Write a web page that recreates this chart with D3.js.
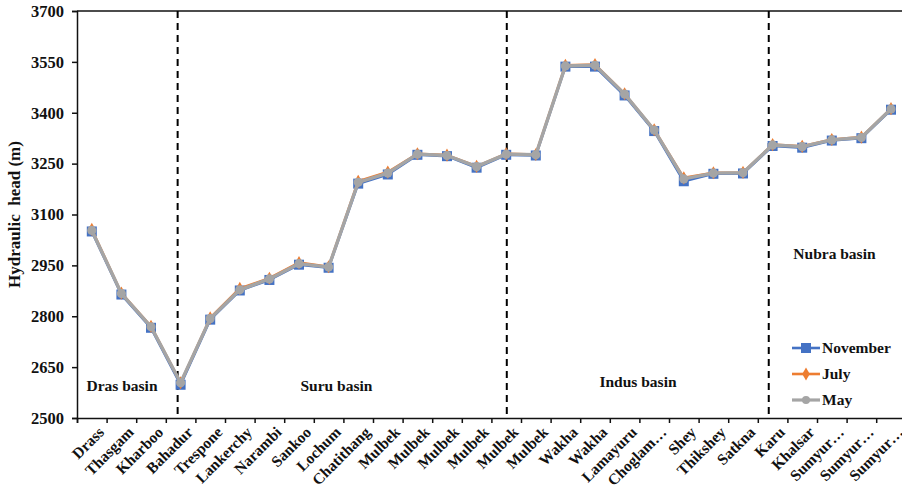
<!DOCTYPE html>
<html>
<head>
<meta charset="utf-8">
<script src="https://cdn.jsdelivr.net/npm/d3@7"></script>
<style>
  html, body { margin: 0; padding: 0; background: #fff; }
  svg { display: block; }
  text { font-family: "Liberation Serif", "Times New Roman", serif; font-weight: bold; fill: #111; }
</style>
</head>
<body>
<svg id="chart" width="902" height="491"></svg>
<script>
// Monitoring wells, in order along the basins
const sites = ["Drass","Thasgam","Kharboo","Bahadur","Trespone","Lankerchy","Narambi","Sankoo","Lochum","Chatithang",
  "Mulbek","Mulbek","Mulbek","Mulbek","Mulbek","Mulbek","Wakha","Wakha","Lamayuru","Choglam…","Shey","Thikshey",
  "Satkna","Karu","Khalsar","Sumyur…","Sumyur…","Sumyur…"];

// Hydraulic head (m) per season
const november = [3050,2864,2766,2598,2790,2876,2907,2952,2943,3191,3218,3276,3272,3238,3276,3274,3536,3536,3451,3346,3198,3220,3221,3302,3297,3318,3325,3409];
const july     = [3056,2868,2770,2604,2795,2882,2912,2958,2946,3198,3225,3279,3275,3242,3279,3277,3540,3542,3456,3350,3208,3223,3224,3306,3301,3321,3328,3412];
const may      = [3053,2867,2769,2604,2793,2878,2910,2955,2945,3195,3222,3278,3274,3241,3278,3276,3538,3540,3455,3349,3205,3222,3223,3305,3300,3320,3327,3411];

const yTicks = [2500,2650,2800,2950,3100,3250,3400,3550,3700];

// Basin separators (in site-index units) and basin names
const basinBreaks = [2.9, 14.02, 22.87];
const basins = [
  {name: "Dras basin",  at: -0.18, v: 2580},
  {name: "Suru basin",  at: 7.05,  v: 2580},
  {name: "Indus basin", at: 17.15, v: 2592},
  {name: "Nubra basin", at: 23.7,  v: 2968}
];

const seriesDefs = [
  {name: "November", values: november, color: "#4472C4"},
  {name: "July",     values: july,     color: "#ED7D31"},
  {name: "May",      values: may,      color: "#A5A5A5"}
];

const svg = d3.select("#chart");
const mLeft = 77, mTop = 11, mBottom = 418, step = 29.6;
const mRight = mLeft + step * sites.length;

const x = d3.scaleBand().domain(d3.range(sites.length)).range([mLeft, mRight]).padding(0);
const xIdx = d3.scaleLinear().domain([0, sites.length - 1])
  .range([x(0) + x.bandwidth() / 2, x(sites.length - 1) + x.bandwidth() / 2]);
const xEdge = d3.scaleLinear().domain([0, sites.length]).range([mLeft, mRight]);
const y = d3.scaleLinear().domain([2500, 3700]).range([mBottom, mTop]);

// Top frame line
svg.append("line").attr("x1", mLeft).attr("x2", mRight).attr("y1", mTop).attr("y2", mTop)
  .attr("stroke", "#111").attr("stroke-width", 1.5);

// Basin separators
svg.selectAll("line.sep").data(basinBreaks).join("line").attr("class", "sep")
  .attr("x1", d => xIdx(d)).attr("x2", d => xIdx(d))
  .attr("y1", mTop).attr("y2", mBottom)
  .attr("stroke", "#000").attr("stroke-width", 2).attr("stroke-dasharray", "7,5");

// Y axis
const yAxis = svg.append("g").attr("transform", `translate(${mLeft},0)`)
  .call(d3.axisLeft(y).tickValues(yTicks).tickSize(5).tickPadding(8).tickFormat(d3.format("d")));
yAxis.select(".domain").attr("stroke", "#111").attr("stroke-width", 1.5);
yAxis.selectAll(".tick line").attr("stroke", "#111").attr("stroke-width", 1.5);
yAxis.selectAll("text").style("font-size", "16.5px").attr("fill", "#111");

// X axis: ticks on category edges
const xTicks = svg.append("g").attr("transform", `translate(0,${mBottom})`)
  .call(d3.axisBottom(xEdge).tickValues(d3.range(0, sites.length + 1)).tickSize(5).tickFormat(""));
xTicks.select(".domain").attr("stroke", "#111").attr("stroke-width", 1.5);
xTicks.selectAll(".tick line").attr("stroke", "#111").attr("stroke-width", 1.5);

// X axis labels, rotated
const xLab = svg.append("g").attr("transform", `translate(0,${mBottom})`)
  .call(d3.axisBottom(x).tickSize(0).tickFormat(i => sites[i]));
xLab.select(".domain").remove();
xLab.selectAll("text")
  .style("font-size", "15.5px").attr("fill", "#111")
  .attr("text-anchor", "end")
  .attr("transform", "translate(5,7) rotate(-45)")
  .attr("dy", "0.75em").attr("y", 0).attr("x", 0);

// Y title
svg.append("text")
  .attr("transform", `translate(20,${(mTop + mBottom) / 2}) rotate(-90)`)
  .attr("text-anchor", "middle").style("font-size", "17px").attr("fill", "#2a0e14")
  .attr("xml:space", "preserve")
  .text("Hydraulic  head (m)");

// Lines and markers
const line = d3.line().x((d, i) => xIdx(i)).y(d => y(d));

seriesDefs.forEach(s => {
  svg.append("path").datum(s.values)
    .attr("fill", "none").attr("stroke", s.color)
    .attr("stroke-width", s.name === "May" ? 3.4 : 2.6)
    .attr("stroke-linejoin", "round").attr("d", line);
  const g = svg.append("g");
  if (s.name === "November") {
    g.selectAll("rect").data(s.values).join("rect")
      .attr("x", (d, i) => xIdx(i) - 5).attr("y", d => y(d) - 5)
      .attr("width", 10).attr("height", 10).attr("fill", s.color);
  } else if (s.name === "July") {
    g.selectAll("path").data(s.values).join("path")
      .attr("d", d3.symbol(d3.symbolDiamond, 50))
      .attr("transform", (d, i) => `translate(${xIdx(i)},${y(d)})`).attr("fill", s.color);
  } else {
    g.selectAll("circle").data(s.values).join("circle")
      .attr("cx", (d, i) => xIdx(i)).attr("cy", d => y(d)).attr("r", 4.6).attr("fill", s.color);
  }
});

// Basin names
svg.selectAll("text.basin").data(basins).join("text").attr("class", "basin")
  .attr("x", d => xIdx(d.at)).attr("y", d => y(d.v))
  .style("font-size", "15.5px").attr("fill", "#111")
  .text(d => d.name);

// Legend
const lg = svg.append("g").attr("transform", "translate(792,348)");
seriesDefs.forEach((s, i) => {
  const row = lg.append("g").attr("transform", `translate(0,${i * 26})`);
  row.append("line").attr("x1", 0).attr("x2", 28).attr("y1", 0).attr("y2", 0)
    .attr("stroke", s.color).attr("stroke-width", s.name === "May" ? 3.2 : 2.6);
  if (s.name === "November") {
    row.append("rect").attr("x", 9).attr("y", -5).attr("width", 10).attr("height", 10).attr("fill", s.color);
  } else if (s.name === "July") {
    row.append("path").attr("d", d3.symbol(d3.symbolDiamond, 50)).attr("transform", "translate(14,0)").attr("fill", s.color);
  } else {
    row.append("circle").attr("cx", 14).attr("cy", 0).attr("r", 4).attr("fill", s.color);
  }
  row.append("text").attr("x", 30).attr("y", 5).style("font-size", "15.5px").attr("fill", "#111").text(s.name);
});
</script>
</body>
</html>
